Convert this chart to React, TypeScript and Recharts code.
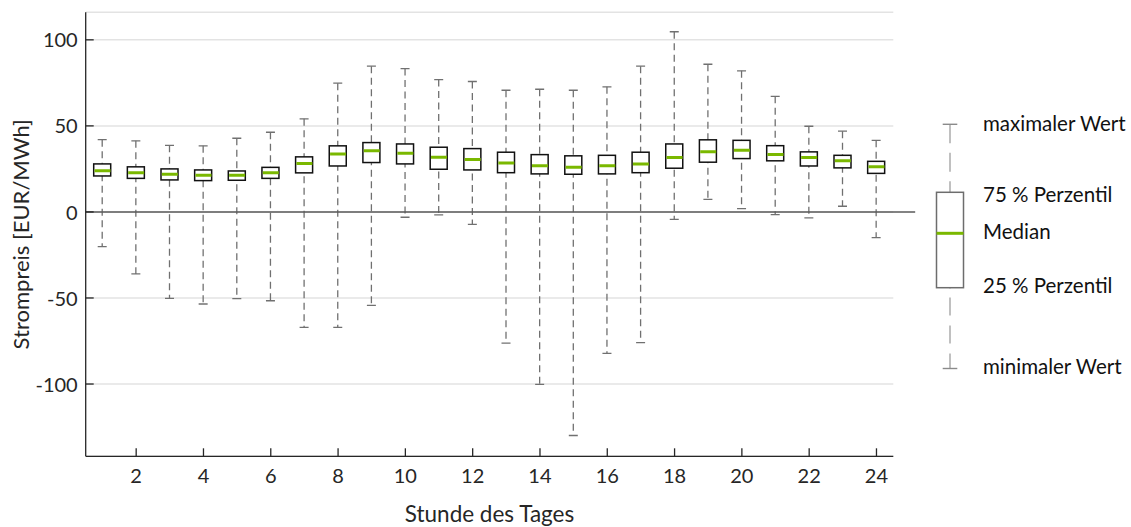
import React from 'react';
import {
  ComposedChart,
  Bar,
  Scatter,
  XAxis,
  YAxis,
  CartesianGrid,
  ReferenceLine,
  Label,
} from 'recharts';

// Strompreis je Stunde des Tages (EUR/MWh)
const hours = [1, 2, 3, 4, 5, 6, 7, 8, 9, 10, 11, 12, 13, 14, 15, 16, 17, 18, 19, 20, 21, 22, 23, 24];
const maxValues = [42, 41.3, 38.7, 38.4, 42.8, 46.3, 54.1, 74.8, 84.7, 83.3, 76.9, 75.8, 70.7, 71.3, 70.7, 72.7, 84.7, 104.7, 85.8, 82, 67.2, 49.8, 46.9, 41.6];
const q3Values = [27.9, 26.2, 25, 24.4, 23.8, 25.9, 32, 38.4, 40.3, 39.5, 37.6, 36.8, 34.7, 33.3, 32.6, 32.9, 34.7, 39.5, 41.9, 41.6, 38.5, 34.9, 32.9, 29.4];
const medianValues = [24, 22.7, 21.9, 21.3, 21.3, 22.7, 28.1, 33.7, 35.5, 34.1, 31.7, 30.4, 28.5, 26.9, 25.9, 26.9, 27.9, 31.6, 34.9, 35.8, 33.3, 31.6, 29.8, 26.2];
const q1Values = [20.9, 19.5, 18.6, 18.2, 18.4, 19.5, 22.7, 26.7, 28.7, 27.9, 24.8, 24.4, 22.8, 22.1, 21.9, 22.1, 22.8, 25.4, 28.9, 31, 29.7, 26.7, 25.6, 22.4];
const minValues = [-20.2, -36, -50.2, -53.5, -50.4, -51.6, -67.1, -67.1, -54.3, -3.1, -1.7, -7.2, -76.2, -100.2, -129.9, -82.2, -76, -4.3, 7.3, 1.9, -1.6, -3.5, 3.3, -14.9];

const xTicks = [2, 4, 6, 8, 10, 12, 14, 16, 18, 20, 22, 24];
const yTicks = [-100, -50, 0, 50, 100];

const legendItems = ['maximaler Wert', '75 % Perzentil', 'Median', '25 % Perzentil', 'minimaler Wert'];

const data = hours.map((hour, i) => ({
  hour,
  whisker: [minValues[i], maxValues[i]],
  box: [q1Values[i], q3Values[i]],
  median: medianValues[i],
}));

const FONT = 'Lato, sans-serif';
const TEXT = '#262626';
const GREEN = '#7ab800';
const WHISKER = '#707070';

const WhiskerShape = (props: any) => {
  const { x, y, width, height } = props;
  const cx = x + width / 2;
  const top = Math.min(y, y + height);
  const bottom = Math.max(y, y + height);
  return (
    <g>
      <line x1={cx} x2={cx} y1={top} y2={bottom} stroke={WHISKER} strokeWidth={1.3} strokeDasharray="7 4.5" />
      <line x1={cx - 4.5} x2={cx + 4.5} y1={top} y2={top} stroke={WHISKER} strokeWidth={1.3} />
      <line x1={cx - 4.5} x2={cx + 4.5} y1={bottom} y2={bottom} stroke={WHISKER} strokeWidth={1.3} />
    </g>
  );
};

const BoxShape = (props: any) => {
  const { x, y, width, height } = props;
  return (
    <rect
      x={x}
      y={Math.min(y, y + height)}
      width={width}
      height={Math.abs(height)}
      fill="#ffffff"
      stroke="#111111"
      strokeWidth={1.5}
    />
  );
};

const MedianShape = (props: any) => {
  const { cx, cy } = props;
  return <line x1={cx - 8} x2={cx + 8} y1={cy} y2={cy} stroke={GREEN} strokeWidth={3} />;
};

const XTick = (props: any) => {
  const { x, y, payload } = props;
  return (
    <g>
      <line x1={x} x2={x} y1={y} y2={y - 8} stroke={TEXT} strokeWidth={1.3} />
      <text x={x} y={y + 27} textAnchor="middle" fill={TEXT} fontSize={20} fontFamily={FONT}>
        {payload.value}
      </text>
    </g>
  );
};

const YTick = (props: any) => {
  const { x, y, payload } = props;
  return (
    <g>
      <line x1={x} x2={x + 8} y1={y} y2={y} stroke={TEXT} strokeWidth={1.3} />
      <text x={x - 8} y={y + 7.6} textAnchor="end" fill={TEXT} fontSize={20} fontFamily={FONT}>
        {payload.value}
      </text>
    </g>
  );
};

const YTitle = (props: any) => {
  const vb = props.viewBox || { x: 0, y: 12, width: 86, height: 444 };
  const tx = vb.x + 29.5;
  const ty = vb.y + vb.height / 2;
  return (
    <text
      x={tx}
      y={ty}
      transform={`rotate(-90, ${tx}, ${ty})`}
      textAnchor="middle"
      fill={TEXT}
      fontSize={22}
      fontFamily={FONT}
    >
      Strompreis [EUR/MWh]
    </text>
  );
};

const XTitle = (props: any) => {
  const vb = props.viewBox || { x: 86, y: 456, width: 807, height: 71 };
  return (
    <text
      x={vb.x + vb.width / 2}
      y={vb.y + 66}
      textAnchor="middle"
      fill={TEXT}
      fontSize={22.5}
      fontFamily={FONT}
    >
      Stunde des Tages
    </text>
  );
};

// Legende: schematischer Boxplot mit Beschriftung
const BoxLegend = () => {
  const cx = 950;
  const labelY = [130.7, 201.7, 239.3, 293.3, 374];
  return (
    <svg
      width={1131}
      height={527}
      style={{ position: 'absolute', left: 0, top: 0, pointerEvents: 'none' }}
    >
      <line x1={cx} x2={cx} y1={124.3} y2={192.3} stroke="#a6a6a6" strokeWidth={1.4} strokeDasharray="19 9.5" />
      <line x1={cx} x2={cx} y1={368.5} y2={287.7} stroke="#a6a6a6" strokeWidth={1.4} strokeDasharray="15 10 18 10 18 9" />
      <line x1={cx - 7.3} x2={cx + 7.3} y1={124.3} y2={124.3} stroke="#8a8a8a" strokeWidth={1.4} />
      <line x1={cx - 7.3} x2={cx + 7.3} y1={368.5} y2={368.5} stroke="#8a8a8a" strokeWidth={1.4} />
      <rect x={936.5} y={192.3} width={27} height={95.4} fill="#ffffff" stroke="#6d6d6d" strokeWidth={1.5} />
      <line x1={936.5} x2={963.5} y1={233.3} y2={233.3} stroke={GREEN} strokeWidth={3} />
      {legendItems.map((item, i) => (
        <text key={item} x={983} y={labelY[i]} fill="#111111" fontSize={20.5} fontFamily={FONT}>
          {item}
        </text>
      ))}
    </svg>
  );
};

export default function App() {
  return (
    <div style={{ position: 'absolute', left: 0, top: 0, width: 1131, height: 527, background: '#ffffff' }}>
      <ComposedChart
        width={1131}
        height={527}
        data={data}
        margin={{ top: 12.3, right: 237.7, bottom: 0, left: 0 }}
      >
        <CartesianGrid horizontal vertical={false} stroke="#e3e3e3" strokeWidth={1.5} />
        <XAxis
          dataKey="hour"
          type="number"
          domain={[0.5, 24.5]}
          ticks={xTicks}
          height={70.7}
          tickSize={0}
          tickMargin={0}
          tickLine={false}
          tick={<XTick />}
          axisLine={{ stroke: TEXT, strokeWidth: 1.3 }}
          allowDataOverflow
        >
          <Label content={<XTitle />} />
        </XAxis>
        <XAxis
          xAxisId="box"
          dataKey="hour"
          type="number"
          domain={[0.5, 24.5]}
          ticks={xTicks}
          hide
          allowDataOverflow
        />
        <YAxis
          type="number"
          domain={[-142, 116]}
          ticks={yTicks}
          width={85.7}
          tickSize={0}
          tickMargin={0}
          tickLine={false}
          tick={<YTick />}
          axisLine={{ stroke: TEXT, strokeWidth: 1.3 }}
          allowDataOverflow
        >
          <Label content={<YTitle />} />
        </YAxis>
        <ReferenceLine
          segment={[{ x: 0.5, y: 0 }, { x: 25.15, y: 0 }]}
          stroke="#5a5a5a"
          strokeWidth={1.5}
          ifOverflow="visible"
        />
        <Bar dataKey="whisker" barSize={17} shape={<WhiskerShape />} isAnimationActive={false} />
        <Bar dataKey="box" xAxisId="box" barSize={17} shape={<BoxShape />} isAnimationActive={false} />
        <Scatter dataKey="median" shape={<MedianShape />} isAnimationActive={false} />
      </ComposedChart>
      <BoxLegend />
    </div>
  );
}
